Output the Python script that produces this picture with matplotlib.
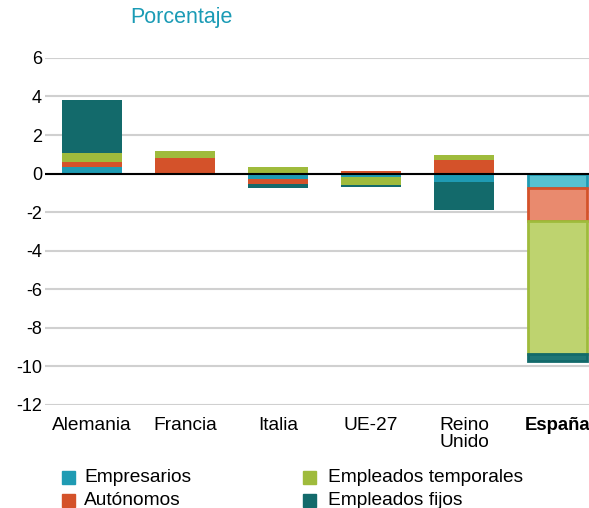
import numpy as np
import matplotlib
matplotlib.use("Agg")
import matplotlib.pyplot as plt
from matplotlib.patches import Rectangle

plt.rcParams['font.family'] = ['Liberation Sans', 'DejaVu Sans']

paises = ["Alemania", "Francia", "Italia", "UE-27", "Reino\nUnido", "España"]
series = ["Empresarios", "Autónomos", "Empleados temporales", "Empleados fijos"]
empresarios = [0.33, 0.0, -0.30, -0.20, -0.45, -0.75]
autonomos = [0.25, 0.82, -0.25, 0.12, 0.70, -1.70]
temporales = [0.47, 0.33, 0.33, -0.40, 0.25, -6.90]
fijos = [2.75, -0.08, -0.20, -0.10, -1.45, -0.35]
yticks = [6, 4, 2, 0, -2, -4, -6, -8, -10, -12]

colores = ["#1f9bb3", "#d4522a", "#9fbb3c", "#136a6b"]
claros = ["#57c1d0", "#e98a6e", "#bed36f", "#1f7676"]

W, H = 589, 508
fig = plt.figure(figsize=(W / 100, H / 100), dpi=100)
ax = fig.add_axes([0.076, 0.203, 0.924, 0.683])

x = np.arange(len(paises))
ancho = 0.64
pos = np.zeros(len(paises))
neg = np.zeros(len(paises))
for i, vals in enumerate([empresarios, autonomos, temporales, fijos]):
    vals = np.array(vals)
    for j, v in enumerate(vals):
        if v == 0:
            continue
        base = pos[j] if v > 0 else neg[j]
        if j == len(paises) - 1:
            ax.bar(x[j], v, ancho, bottom=base, color=claros[i],
                   edgecolor=colores[i], linewidth=2, zorder=3)
        else:
            ax.bar(x[j], v, ancho, bottom=base, color=colores[i],
                   edgecolor="none", zorder=3)
        if v > 0:
            pos[j] += v
        else:
            neg[j] += v

ax.axhline(0, color="black", linewidth=1.5, zorder=4)
ax.set_ylim(-12, 6)
ax.set_xlim(-0.505, 5.34)
ax.set_yticks(yticks)
ax.set_yticklabels([str(t) for t in yticks], fontsize=13)
ax.yaxis.grid(True, color="#d0d0d0", linewidth=1.5, zorder=0)
ax.set_axisbelow(True)
ax.tick_params(axis="y", length=0, pad=2)
ax.tick_params(axis="x", length=0, pad=9)
ax.set_xticks(x)
ax.set_xticklabels(paises, fontsize=13.8, va="top", linespacing=0.95)
esp = ax.get_xticklabels()[-1]
esp.set_fontweight("bold")
esp.set_fontsize(13.3)

fig.text(0.221, 0.965, "Porcentaje", color="#1a9bb5", fontsize=15.5, va="center")
for s in ax.spines.values():
    s.set_visible(False)

# leyenda manual en dos columnas
col_x = [62, 303]
sep_txt = [22, 25]
fila_y = [477, 500]
for k, nombre in enumerate(series):
    cx = col_x[k // 2]
    cy = fila_y[k % 2]
    fig.add_artist(Rectangle((cx / W, 1 - (cy + 6.5) / H), 13 / W, 13 / H,
                             transform=fig.transFigure, color=colores[k]))
    fig.text((cx + sep_txt[k // 2]) / W, 1 - (cy + 5) / H, nombre,
             fontsize=13.8, va="baseline")

fig.savefig("out.png", dpi=100)
